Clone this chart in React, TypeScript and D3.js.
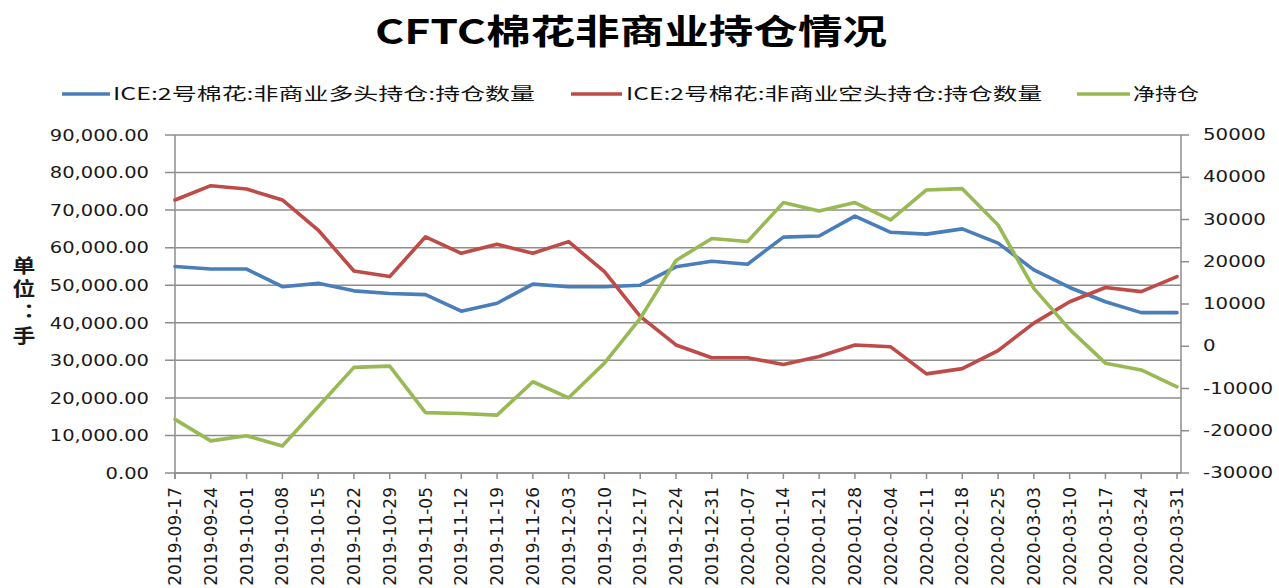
import React from 'react';
import * as d3 from 'd3';

// weekly report dates
const dates = [
  '2019-09-17', '2019-09-24', '2019-10-01', '2019-10-08', '2019-10-15', '2019-10-22', '2019-10-29',
  '2019-11-05', '2019-11-12', '2019-11-19', '2019-11-26', '2019-12-03', '2019-12-10', '2019-12-17',
  '2019-12-24', '2019-12-31', '2020-01-07', '2020-01-14', '2020-01-21', '2020-01-28', '2020-02-04',
  '2020-02-11', '2020-02-18', '2020-02-25', '2020-03-03', '2020-03-10', '2020-03-17', '2020-03-24',
  '2020-03-31',
];

// left axis series
const longPos = [55000, 54300, 54300, 49600, 50500, 48500, 47800, 47500, 43100, 45200, 50300, 49600, 49600, 50000,
  54900, 56400, 55600, 62800, 63100, 68400, 64100, 63600, 65000, 61200, 54100, 49400, 45600, 42700, 42700];
const shortPos = [72700, 76500, 75600, 72700, 64700, 53800, 52300, 62900, 58500, 60900, 58500, 61600, 53600, 41700,
  34100, 30700, 30700, 28900, 31000, 34100, 33600, 26400, 27800, 32600, 39900, 45600, 49400, 48300, 52300];
// right axis series
const netPos = [-17300, -22400, -21200, -23600, -14300, -5000, -4700, -15700, -15900, -16300, -8400, -12200, -4000, 6600,
  20300, 25500, 24800, 34000, 32000, 34000, 29900, 37000, 37300, 28700, 13700, 4000, -4000, -5600, -9600];

const title = 'CFTC棉花非商业持仓情况';
const seriesNames = ['ICE:2号棉花:非商业多头持仓:持仓数量', 'ICE:2号棉花:非商业空头持仓:持仓数量', '净持仓'];
const yTitle = '单位：手';

const colors = ['#4a7ebb', '#be4b48', '#98b954'];
const gridColor = '#8e8e8e';
const latin = 'DejaVu Sans, Verdana, sans-serif';
const cjk = '"Noto Sans CJK SC", "Noto Sans", sans-serif';

const left = 175, right = 1181, top = 135, bottom = 473;

// text squeezed / stretched horizontally like the original
function SText({ x, y, sx = 1, size, anchor = 'start', family = latin, weight = 'normal', children }: any) {
  return (
    <text transform={`translate(${x},${y}) scale(${sx},1)`} fontSize={size} fontFamily={family}
      fontWeight={weight} textAnchor={anchor} dominantBaseline="central" fill="#1a1a1a">
      {children}
    </text>
  );
}

export default function App() {
  const x = d3.scalePoint<string>().domain(dates).range([left, 1177]);
  const yL = d3.scaleLinear().domain([0, 90000]).range([bottom, top]);
  const yR = d3.scaleLinear().domain([-30000, 50000]).range([bottom, top]);

  const lineL = d3.line<number>().x((d, i) => x(dates[i])!).y(d => yL(d));
  const lineR = d3.line<number>().x((d, i) => x(dates[i])!).y(d => yR(d));
  const fmtL = d3.format(',.2f');

  const paths = [lineL(longPos), lineL(shortPos), lineR(netPos)];

  // legend layout: [line start, line end, text start, text width]
  const legendPos = [[62, 110, 113, 422], [571, 622, 626, 416], [1077, 1130, 1133, 66]];

  return (
    <svg width={1279} height={588} style={{ position: 'absolute', left: 0, top: 0, background: '#fff' }}>
      {/* title */}
      <text x={375} y={29} fontSize={34} fontWeight="bold" fontFamily={cjk} dominantBaseline="central"
        textLength={512} lengthAdjust="spacingAndGlyphs" fill="#000">{title}</text>

      {/* legend */}
      {seriesNames.map((name, i) => (
        <g key={name}>
          <line x1={legendPos[i][0]} x2={legendPos[i][1]} y1={94} y2={94} stroke={colors[i]} strokeWidth={3.5} />
          <text x={legendPos[i][2]} y={92} fontSize={17} fontFamily={cjk} dominantBaseline="central"
            textLength={legendPos[i][3]} lengthAdjust="spacingAndGlyphs" fill="#111">{name}</text>
        </g>
      ))}

      {/* gridlines and left ticks */}
      {yL.ticks(9).map(t => (
        <g key={t}>
          <line x1={left - 10} x2={right} y1={yL(t)} y2={yL(t)} stroke={gridColor} strokeWidth={1.5} />
          <SText x={149} y={yL(t)} sx={1.22} size={16} anchor="end">{fmtL(t)}</SText>
        </g>
      ))}

      {/* right ticks */}
      {yR.ticks(8).map(t => (
        <g key={t}>
          <line x1={right} x2={right + 8} y1={yR(t)} y2={yR(t)} stroke={gridColor} strokeWidth={1.5} />
          <SText x={1203} y={yR(t)} sx={1.32} size={15}>{String(t)}</SText>
        </g>
      ))}

      {/* axis lines */}
      <line x1={left} x2={left} y1={top} y2={bottom + 6} stroke={gridColor} strokeWidth={1.5} />
      <line x1={right} x2={right} y1={top} y2={bottom} stroke={gridColor} strokeWidth={1.5} />
      <line x1={left} x2={right} y1={bottom} y2={bottom} stroke={gridColor} strokeWidth={1.5} />

      {/* category ticks and labels */}
      {dates.map(d => (
        <g key={d}>
          <line x1={x(d)} x2={x(d)} y1={bottom} y2={bottom + 6} stroke={gridColor} strokeWidth={1.5} />
          <text transform={`translate(${x(d)},${bottom + 14}) rotate(-90)`} fontSize={17} fontFamily={latin}
            textAnchor="end" dy="0.36em" fill="#1a1a1a">{d}</text>
        </g>
      ))}

      {/* y-axis title, vertical */}
      <text transform="translate(24,256) scale(1.2,1)" fontSize={19} fontFamily={cjk} fontWeight="bold"
        style={{ writingMode: 'vertical-rl', textOrientation: 'upright', fontFeatureSettings: '"vert" 0, "vrt2" 0' } as any}
        letterSpacing={4.5} fill="#1a1a1a">{yTitle}</text>

      {/* series */}
      {paths.map((p, i) => (
        <path key={i} d={p!} fill="none" stroke={colors[i]} strokeWidth={3.6} strokeLinejoin="round" strokeLinecap="round" />
      ))}
    </svg>
  );
}
